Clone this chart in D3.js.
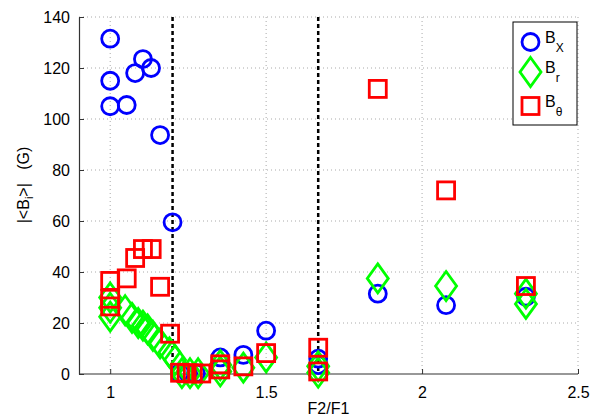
<!DOCTYPE html>
<html><head><meta charset="utf-8">
<script src="https://cdn.jsdelivr.net/npm/d3@7"></script>
<style>body{margin:0;background:#fff}svg{display:block}text{font-family:"Liberation Sans",Arial,sans-serif}</style>
</head><body><svg id="c" width="592" height="419"></svg>
<script>
const xTicks = [1, 1.5, 2, 2.5];
const xTickLabels = ["1", "1.5", "2", "2.5"];
const yTicks = [0, 20, 40, 60, 80, 100, 120, 140];
const dashedX = [1.2, 1.667];
const bxData = [[1.0,131.5],[1.0,115],[1.0,105],[1.053,105.5],[1.08,118],[1.105,123.5],[1.131,120],[1.16,93.7],[1.2,59.5],
  [1.224,0.5],[1.25,0.3],[1.275,0.3],[1.353,6.5],[1.427,7.5],[1.5,17],[1.667,6],[1.667,3.5],[1.858,31.5],[2.077,27],[2.333,30.3]];
const brData = [[1.0,30],[1.0,26],[1.0,22.5],[1.048,25],[1.07,22],[1.09,20],[1.105,19],[1.12,17.5],[1.137,15],[1.16,12],[1.19,8.5],[1.208,5.5],
  [1.23,0.3],[1.256,0.3],[1.282,0.3],[1.353,3.5],[1.353,1],[1.427,2.5],[1.5,6.5],[1.667,0.5],[1.667,3],[1.858,37.5],[2.077,34.5],[2.333,31.5],[2.333,27.5]];
const btData = [[1.0,36.5],[1.0,29.5],[1.0,26.5],[1.053,37.5],[1.08,45.5],[1.105,49],[1.133,49],[1.16,34.2],[1.192,15.8],
  [1.224,0.5],[1.245,0.3],[1.265,0.2],[1.292,0.2],[1.353,3.8],[1.353,1.8],[1.427,3],[1.5,8.2],[1.667,10.3],[1.667,1],[1.858,111.8],[2.077,72],[2.333,34.5]];

const svg = d3.select("#c");
const L = 79, R = 578, T = 17, B = 374;
const x = d3.scaleLinear().domain([0.9, 2.5]).range([L, R]);
const y = d3.scaleLinear().domain([0, 140]).range([B, T]);

// grid
const g = svg.append("g");
g.selectAll(".gx").data(xTicks).enter().append("line")
  .attr("x1", d => x(d)).attr("x2", d => x(d)).attr("y1", T).attr("y2", B)
  .attr("stroke", "#aaa").attr("stroke-width", 1).attr("stroke-dasharray", "1,3");
g.selectAll(".gy").data(yTicks.filter(d => d > 0)).enter().append("line")
  .attr("x1", L).attr("x2", R).attr("y1", d => y(d)).attr("y2", d => y(d))
  .attr("stroke", "#aaa").attr("stroke-width", 1).attr("stroke-dasharray", "1,3");

// axes
const xAxis = d3.axisBottom(x).tickValues(xTicks).tickFormat((d, i) => xTickLabels[i]).tickSizeInner(-5).tickSizeOuter(0).tickPadding(13);
const yAxis = d3.axisLeft(y).tickValues(yTicks).tickSizeInner(-5).tickSizeOuter(0).tickPadding(9);
const ax = svg.append("g").attr("transform", `translate(0,${B})`).call(xAxis);
const ay = svg.append("g").attr("transform", `translate(${L},0)`).call(yAxis);
[ax, ay].forEach(a => {
  a.select(".domain").attr("stroke", "#333").attr("stroke-width", 1.2);
  a.selectAll(".tick line").attr("stroke", "#333");
  a.selectAll("text").attr("font-size", 16).attr("fill", "#000").style("font-family", '"Liberation Sans",Arial,sans-serif');
});
ax.select(".domain").attr("d", `M${L},0H${R}`);

// dashed lines
svg.selectAll(".dash").data(dashedX).enter().append("line")
  .attr("x1", d => x(d)).attr("x2", d => x(d)).attr("y1", T).attr("y2", B)
  .attr("stroke", "#000").attr("stroke-width", 2.5).attr("stroke-dasharray", "4,3");

// markers
const circ = (sel, cx, cy) => sel.append("circle").attr("cx", cx).attr("cy", cy).attr("r", 8.5)
  .attr("fill", "none").attr("stroke", "#0000ff").attr("stroke-width", 2.8);
const diam = (sel, cx, cy) => sel.append("path").attr("d", `M${cx},${cy-14.5}L${cx+10.5},${cy}L${cx},${cy+14.5}L${cx-10.5},${cy}Z`)
  .attr("fill", "none").attr("stroke", "#00ff00").attr("stroke-width", 2.8);
const sq = (sel, cx, cy) => sel.append("rect").attr("x", cx-8.5).attr("y", cy-8.5).attr("width", 17).attr("height", 17)
  .attr("fill", "none").attr("stroke", "#ff0000").attr("stroke-width", 2.8);

const m = svg.append("g");
bxData.forEach(d => circ(m, x(d[0]), y(d[1])));
brData.forEach(d => diam(m, x(d[0]), y(d[1])));
btData.forEach(d => sq(m, x(d[0]), y(d[1])));

// axis labels
svg.append("text").attr("x", (L + R) / 2).attr("y", 414).attr("text-anchor", "middle").attr("font-size", 16).text("F2/F1");
const yl = svg.append("text").attr("transform", "translate(29,185) rotate(-90)").attr("text-anchor", "middle").attr("font-size", 16);
yl.append("tspan").text("|<B");
yl.append("tspan").attr("font-size", 11).attr("dy", 4).text("i");
yl.append("tspan").attr("dy", -4).text(">|   (G)").attr("xml:space", "preserve").style("white-space", "pre");

// legend
const lg = svg.append("g");
lg.append("rect").attr("x", 513).attr("y", 22).attr("width", 64).attr("height", 103)
  .attr("fill", "#fff").attr("stroke", "#000").attr("stroke-width", 1);
const legendNames = [["B", "X"], ["B", "r"], ["B", "θ"]];
const legendY = [42, 72, 106];
circ(lg, 530.5, legendY[0]);
diam(lg, 530.5, legendY[1]);
sq(lg, 530.5, legendY[2]);
legendNames.forEach((n, i) => {
  const t = lg.append("text").attr("x", 545).attr("y", legendY[i] + 1).attr("font-size", 16);
  t.append("tspan").text(n[0]);
  t.append("tspan").attr("font-size", 12).attr("dy", 9).text(n[1]);
});
</script></body></html>
